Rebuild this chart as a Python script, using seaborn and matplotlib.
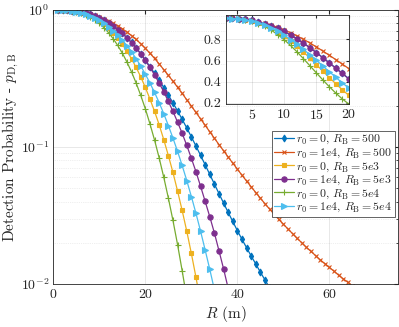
import numpy as np
import seaborn as sns
import matplotlib.pyplot as plt

# detection probability, one value per metre starting at R = 1 m
p_r0_0_rb_500 = [1.000, 0.998, 0.995, 0.988, 0.979, 0.966, 0.950, 0.930, 0.905, 0.876,
                 0.843, 0.806, 0.766, 0.722, 0.676, 0.628, 0.579, 0.529, 0.479, 0.430,
                 0.3865, 0.345, 0.307, 0.2716, 0.2393, 0.210, 0.1832, 0.1592, 0.1377, 0.1186,
                 0.1016, 0.0869, 0.0741, 0.0631, 0.0537, 0.0457, 0.0390, 0.0333, 0.0286, 0.0245,
                 0.0212, 0.0184, 0.0160, 0.0140, 0.0122, 0.0107, 0.0094]
p_r0_1e4_rb_500 = [1.000, 0.998, 0.994, 0.988, 0.979, 0.968, 0.953, 0.935, 0.914, 0.890,
                   0.863, 0.833, 0.801, 0.766, 0.729, 0.690, 0.650, 0.609, 0.567, 0.525,
                   0.483, 0.443, 0.404, 0.367, 0.333, 0.302, 0.273, 0.246, 0.221, 0.199,
                   0.1786, 0.1603, 0.1439, 0.1291, 0.1159, 0.1042, 0.0938, 0.0845, 0.0762, 0.0689,
                   0.0622, 0.0564, 0.0512, 0.0465, 0.0423, 0.0385, 0.0352, 0.0323, 0.0296, 0.0273,
                   0.0252, 0.0233, 0.0215, 0.0200, 0.0185, 0.0173, 0.0161, 0.0150, 0.0141, 0.0132,
                   0.0124, 0.0116, 0.0109, 0.0103, 0.0097]
p_r0_0_rb_5e3 = [1.000, 0.998, 0.994, 0.986, 0.975, 0.958, 0.936, 0.907, 0.873, 0.833,
                 0.787, 0.736, 0.681, 0.623, 0.562, 0.500, 0.440, 0.381, 0.325, 0.272,
                 0.224, 0.182, 0.1455, 0.1132, 0.0866, 0.0652, 0.0477, 0.0344, 0.0243, 0.0167,
                 0.0112, 0.0073]
p_r0_1e4_rb_5e3 = [1.000, 0.998, 0.995, 0.988, 0.979, 0.966, 0.949, 0.929, 0.904, 0.875,
                   0.841, 0.804, 0.764, 0.720, 0.674, 0.626, 0.577, 0.527, 0.478, 0.428,
                   0.381, 0.336, 0.293, 0.253, 0.215, 0.182, 0.152, 0.1258, 0.1028, 0.0827,
                   0.0660, 0.0517, 0.0401, 0.0310, 0.0236, 0.0175, 0.0129, 0.0093]
p_r0_0_rb_5e4 = [1.000, 0.998, 0.993, 0.984, 0.970, 0.950, 0.922, 0.888, 0.846, 0.798,
                 0.743, 0.683, 0.618, 0.551, 0.484, 0.417, 0.353, 0.293, 0.238, 0.190,
                 0.1475, 0.1124, 0.0833, 0.0602, 0.0424, 0.0291, 0.0194, 0.0125, 0.0079]
p_r0_1e4_rb_5e4 = [1.000, 0.997, 0.993, 0.984, 0.972, 0.955, 0.934, 0.908, 0.876, 0.840,
                   0.799, 0.755, 0.706, 0.655, 0.603, 0.548, 0.495, 0.441, 0.390, 0.340,
                   0.293, 0.250, 0.211, 0.175, 0.1434, 0.1161, 0.0929, 0.0733, 0.0569, 0.0435,
                   0.0328, 0.0243, 0.0177, 0.0128, 0.0091]

series = [p_r0_0_rb_500, p_r0_1e4_rb_500, p_r0_0_rb_5e3,
          p_r0_1e4_rb_5e3, p_r0_0_rb_5e4, p_r0_1e4_rb_5e4]
labels = [r'$r_0 = 0$, $R_{\mathrm{B}} = 500$',
          r'$r_0 = 1e4$, $R_{\mathrm{B}} = 500$',
          r'$r_0 = 0$, $R_{\mathrm{B}} = 5e3$',
          r'$r_0 = 1e4$, $R_{\mathrm{B}} = 5e3$',
          r'$r_0 = 0$, $R_{\mathrm{B}} = 5e4$',
          r'$r_0 = 1e4$, $R_{\mathrm{B}} = 5e4$']

# MATLAB default line colours and the marker of each curve
colors = ['#0072BD', '#D95319', '#EDB120', '#7E2F8E', '#77AC30', '#4DBEEE']
markers = ['d', 'x', 's', 'o', '+', '>']
msizes = [3.5, 2.5, 2.6, 3.8, 4, 3.8]

sns.set_style('white')
plt.rcParams.update({
    'font.family': 'serif',
    'font.serif': ['cmr10'],
    'mathtext.fontset': 'cm',
    'axes.unicode_minus': False,
    'axes.formatter.use_mathtext': True,
    'axes.edgecolor': '#262626',
    'axes.linewidth': 0.6,
    'xtick.color': '#262626',
    'ytick.color': '#262626',
    'text.color': '#262626',
})

fig = plt.figure(figsize=(3.99, 3.27), dpi=100)
ax = fig.add_axes([0.1336, 0.1315, 0.865, 0.838])
ins = fig.add_axes([0.566, 0.682, 0.308, 0.272])

for p, lab, c, m, ms in zip(series, labels, colors, markers, msizes):
    r = np.arange(1, len(p) + 1)
    for a, l in ((ax, lab), (ins, None)):
        sns.lineplot(x=r, y=p, ax=a, color=c, marker=m, markersize=ms,
                     markeredgecolor=c, markerfacecolor=c, markeredgewidth=0.8,
                     linewidth=0.9, label=l, legend=False)

ax.set_yscale('log')
ax.set_xlim(0, 75)
ax.set_ylim(1e-2, 1)
ax.set_xticks([0, 20, 40, 60])
ax.set_xlabel(r'$R$ (m)', fontsize=11, labelpad=2)
ax.set_ylabel(r'Detection Probability - $p_{\mathrm{D,B}}$', fontsize=11, labelpad=0)
ax.tick_params(which='both', direction='in', top=True, right=True, labelsize=10, pad=3)
ax.tick_params(which='major', length=3)
ax.tick_params(which='minor', length=1.8)
ax.grid(which='major', color='#262626', alpha=0.15, linewidth=0.5)
ax.grid(which='minor', axis='y', color='#262626', alpha=0.15, linewidth=0.5, linestyle=':')

leg = ax.legend(loc='upper right', bbox_to_anchor=(0.99, 0.559), fontsize=8.5,
                frameon=True, fancybox=False, framealpha=1, edgecolor='#262626',
                handlelength=1.7, handletextpad=0.2, borderpad=0.2,
                labelspacing=0.02, borderaxespad=0)
leg.get_frame().set_linewidth(0.5)

ins.set_xlim(1, 20)
ins.set_ylim(0.19, 1.03)
ins.set_xticks([5, 10, 15, 20])
ins.set_yticks([0.2, 0.4, 0.6, 0.8])
ins.set_yticklabels(['0.2', '0.4', '0.6', '0.8'])
ins.set_xlabel('')
ins.set_ylabel('')
ins.tick_params(direction='in', top=True, right=True, labelsize=10, length=2.5, pad=3)
ins.grid(color='#262626', alpha=0.15, linewidth=0.5)
ins.set_facecolor('white')

fig.savefig('out.png', dpi=100)
